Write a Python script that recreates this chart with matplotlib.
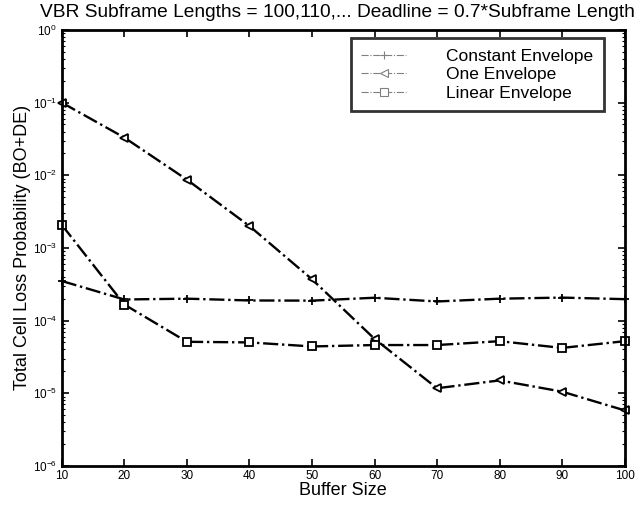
import matplotlib
matplotlib.use('Agg')
import matplotlib.pyplot as plt
from matplotlib.lines import Line2D
from matplotlib.ticker import LogLocator, FixedLocator

plt.rcParams['font.family'] = ['Liberation Sans', 'DejaVu Sans']
plt.rcParams['mathtext.fontset'] = 'custom'
plt.rcParams['mathtext.rm'] = 'Liberation Sans'

# data
buffer_size = [10, 20, 30, 40, 50, 60, 70, 80, 90, 100]
constant_env = [3.5e-4, 1.95e-4, 2.0e-4, 1.89e-4, 1.88e-4, 2.06e-4, 1.83e-4, 2.0e-4, 2.07e-4, 1.97e-4]
one_env = [0.1, 0.033, 8.7e-3, 2.0e-3, 3.7e-4, 5.6e-5, 1.17e-5, 1.5e-5, 1.05e-5, 5.8e-6]
linear_env = [2.07e-3, 1.66e-4, 5.1e-5, 5.0e-5, 4.4e-5, 4.6e-5, 4.6e-5, 5.2e-5, 4.2e-5, 5.2e-5]
labels = ['Constant Envelope', 'One Envelope', 'Linear Envelope']
markers = ['+', '<', 's']

fig = plt.figure(figsize=(6.44, 5.08), dpi=100)
ax = fig.add_axes([0.096, 0.083, 0.874, 0.858])

for ys, m in zip([constant_env, one_env, linear_env], markers):
    ax.plot(buffer_size, ys, color='black', linestyle='-.', linewidth=1.7,
            marker=m, markersize=6, markerfacecolor='white',
            markeredgecolor='black', markeredgewidth=1.3, clip_on=False)

ax.set_yscale('log')
ax.set_xlim(10, 100)
ax.set_ylim(1e-6, 1)
ax.xaxis.set_major_locator(FixedLocator(buffer_size))
ax.yaxis.set_major_locator(LogLocator(base=10, numticks=10))
ax.yaxis.set_minor_locator(LogLocator(base=10, subs=range(2, 10), numticks=20))
ax.tick_params(which='both', direction='in', top=True, right=True, labelsize=8.5)
ax.tick_params(which='major', length=5, width=1.2)
ax.tick_params(which='minor', length=2, width=0.8)
ax.tick_params(axis='x', pad=3)
for s in ax.spines.values():
    s.set_linewidth(2)

ax.set_title('VBR Subframe Lengths = 100,110,... Deadline = 0.7*Subframe Length',
             fontsize=13.8, pad=9, x=0.49)
ax.set_xlabel('Buffer Size', fontsize=13, labelpad=0)
ax.set_ylabel('Total Cell Loss Probability (BO+DE)', fontsize=13, labelpad=1)

handles = [Line2D([], [], color='gray', linestyle='-.', linewidth=0.8,
                  marker=m, markersize=6, markerfacecolor='white',
                  markeredgecolor='gray', markeredgewidth=0.8)
           for m in markers]
leg = ax.legend(handles, labels, loc='upper right', fontsize=12.5,
                bbox_to_anchor=(0.963, 0.981), frameon=True, fancybox=False,
                handlelength=2.6, handletextpad=2.3, labelspacing=0.2,
                borderpad=0.6, borderaxespad=0)
leg.get_frame().set_edgecolor('black')
leg.get_frame().set_linewidth(2)

fig.savefig('out.png', dpi=100)
